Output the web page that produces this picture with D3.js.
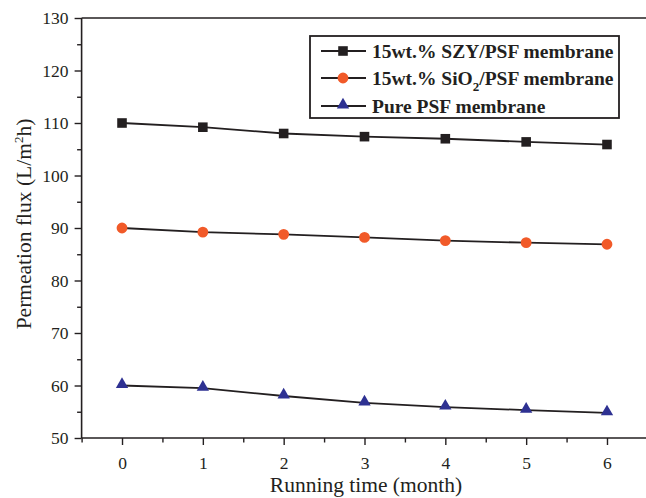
<!DOCTYPE html>
<html><head><meta charset="utf-8">
<script src="https://cdn.jsdelivr.net/npm/d3@7"></script>
<style>body{margin:0;background:#fff}svg{display:block}</style>
</head><body>
<svg id="c" width="646" height="498"></svg>
<script>
const months = [0,1,2,3,4,5,6];
const szy = [110,109.2,108.0,107.4,107.0,106.4,105.9];
const sio2 = [90,89.2,88.8,88.2,87.6,87.2,86.9];
const pure = [60,59.5,58.0,56.7,55.9,55.3,54.8];
const yTicks = [50,60,70,80,90,100,110,120,130];
const xTicks = [0,1,2,3,4,5,6];
const seriesNames = ["15wt.% SZY/PSF membrane","15wt.% SiO2/PSF membrane","Pure PSF membrane"];

const svg = d3.select("#c");
const L=81.6, R=647.4, T=18, B=438;
const x = d3.scaleLinear().domain([-0.5,6.5]).range([L,R]);
const y = d3.scaleLinear().domain([50,130]).range([B,T]);
const font = "'Liberation Serif','Times New Roman',serif";
const ink = "#231f20";

// axes
const yAxis = d3.axisLeft(y).tickValues(yTicks).tickSize(7).tickPadding(6).tickFormat(d3.format("d"));
const gy = svg.append("g").attr("transform",`translate(${L},0)`).call(yAxis);
const yMinor = d3.axisLeft(y).tickValues(d3.range(55,130,10)).tickSize(4.5).tickFormat("");
svg.append("g").attr("transform",`translate(${L},0)`).call(yMinor).select(".domain").remove();
const xAxis = d3.axisBottom(x).tickValues(xTicks).tickSize(7).tickPadding(12).tickFormat(d3.format("d"));
const gx = svg.append("g").attr("transform",`translate(0,${B})`).call(xAxis);
const xMinor = d3.axisBottom(x).tickValues(d3.range(-0.5,6.6,1)).tickSize(4.5).tickFormat("");
svg.append("g").attr("transform",`translate(0,${B})`).call(xMinor).select(".domain").remove();
svg.selectAll(".domain").attr("stroke",ink).attr("stroke-width",1.6);
svg.selectAll(".tick line").attr("stroke",ink).attr("stroke-width",1.4);
svg.selectAll(".tick text").attr("font-family",font).attr("font-size",17.5).attr("fill",ink);
gy.selectAll(".domain").attr("d",`M-0,${B}V${T}`);
gx.selectAll(".domain").attr("d",`M${L},0H${R}`);
// top frame
svg.append("line").attr("x1",L).attr("x2",R).attr("y1",y(130)).attr("y2",y(130)).attr("stroke",ink).attr("stroke-width",1.6);

// axis titles
svg.append("text").attr("x",366).attr("y",492).attr("text-anchor","middle")
  .attr("font-family",font).attr("font-size",21.5).attr("fill",ink).text("Running time (month)");
const yt = svg.append("text").attr("transform",`translate(31,224) rotate(-90)`).attr("text-anchor","middle")
  .attr("font-family",font).attr("font-size",21.5).attr("fill",ink);
yt.append("tspan").text("Permeation flux (L/m");
yt.append("tspan").attr("font-size",13).attr("dy",-8).text("2");
yt.append("tspan").attr("dy",8).text("h)");

const series = [
  {name:seriesNames[0], vals:szy, color:ink, shape:d3.symbolSquare, size:92},
  {name:seriesNames[1], vals:sio2, color:"#f15a29", shape:d3.symbolCircle, size:92},
  {name:seriesNames[2], vals:pure, color:"#2e3192", shape:d3.symbolTriangle, size:66}
];
const line = d3.line().x((d,i)=>x(months[i])).y(d=>y(d));
series.forEach(s=>{
  svg.append("path").attr("d",line(s.vals)).attr("fill","none").attr("stroke",ink).attr("stroke-width",1.8);
  svg.selectAll(null).data(s.vals).enter().append("path")
    .attr("transform",(d,i)=>`translate(${x(months[i])},${y(d)+(s.shape===d3.symbolTriangle?-1:0)})`)
    .attr("d",d3.symbol().type(s.shape).size(s.size)).attr("fill",s.color);
});

// legend
const lg = svg.append("g");
lg.append("rect").attr("x",310).attr("y",36).attr("width",309).attr("height",82)
  .attr("fill","#fff").attr("stroke",ink).attr("stroke-width",1.8);
const rowsY=[51,78,106];
series.forEach((s,i)=>{
  const yy=rowsY[i];
  lg.append("line").attr("x1",321).attr("x2",366).attr("y1",yy).attr("y2",yy).attr("stroke",ink).attr("stroke-width",1.8);
  lg.append("path").attr("transform",`translate(343,${yy+(s.shape===d3.symbolTriangle?-1:0)})`)
    .attr("d",d3.symbol().type(s.shape).size(s.size)).attr("fill",s.color);
  const t = lg.append("text").attr("x",372).attr("y",yy+7).attr("font-family",font).attr("font-weight","bold")
    .attr("font-size",19.5).attr("fill",ink);
  if(s.name.includes("SiO2")){
    const parts=s.name.split("SiO2");
    t.append("tspan").text(parts[0]+"SiO");
    t.append("tspan").attr("font-size",13).attr("dy",6).text("2");
    t.append("tspan").attr("dy",-6).text(parts[1]);
  } else t.text(s.name);
});
</script>
</body></html>
